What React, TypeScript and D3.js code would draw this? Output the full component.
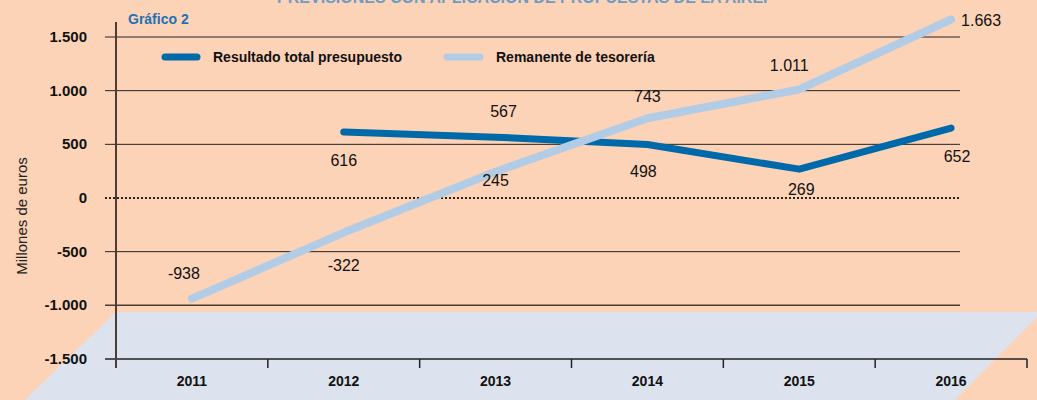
import React from 'react';
import * as d3 from 'd3';

// chart data
const years = ['2011', '2012', '2013', '2014', '2015', '2016'];
const resultado = [null, 616, 567, 498, 269, 652];
const remanente = [-938, -322, 245, 743, 1011, 1663];
const yTicks = [-1500, -1000, -500, 0, 500, 1000, 1500];

// label placement per point: [dx, dy] relative to the point
const resultadoLabelPos = [null, [0, 34], [8, -20], [-4, 32], [2, 26], [6, 34]];
const remanenteLabelPos = [[-8, -20], [0, 38], [0, 14], [0, -16], [-10, -18], [30, 6]];

const W = 1037;
const H = 400;

// spanish style: dot for thousands, plain hyphen for minus
const fmt = (v: number) => d3.format(',')(v).replace(/,/g, '.').replace('\u2212', '-');

const App = () => {
  const x = d3.scaleBand().domain(years).range([116, 1027]).padding(0);
  const y = d3.scaleLinear().domain([-1500, 1500]).range([359, 37]);
  const cx = (yr: string) => (x(yr) || 0) + x.bandwidth() / 2;

  const line = d3.line<[string, number | null]>()
    .defined(d => d[1] !== null)
    .x(d => cx(d[0]))
    .y(d => y(d[1] as number));

  const resData = years.map((yr, i) => [yr, resultado[i]] as [string, number | null]);
  const remData = years.map((yr, i) => [yr, remanente[i]] as [string, number | null]);

  const gridX0 = 105;
  const gridX1 = 960;
  const font = '"Liberation Sans", Arial, sans-serif';

  return (
    <svg width={W} height={H} style={{ position: 'absolute', left: 0, top: 0 }} fontFamily={font}>
      <rect x={0} y={0} width={W} height={H} fill='#fdd3b8' />
      {/* light band at the bottom */}
      <polygon points={`116,312 ${W},312 ${W},317 955,${H} 25,${H}`} fill='#dce3ef' />

      {/* title, cut off by the top edge as in the source */}
      <text x={525} y={3} textAnchor='middle' fontSize={16} fontWeight='bold' fill='#6f9cc4'>
        PREVISIONES CON APLICACIÓN DE PROPUESTAS DE LA AIREF
      </text>
      <text x={128} y={24} fontSize={14} fontWeight='bold' fill='#1d72b4'>Gráfico 2</text>

      {/* gridlines */}
      {yTicks.filter(t => t !== -1500).map(t => (
        <line key={t} x1={gridX0} x2={gridX1} y1={y(t)} y2={y(t)}
          stroke={t === -1000 ? '#4a3b33' : '#222'}
          strokeWidth={t === -1000 ? 1.5 : t === 0 ? 2 : 1}
          strokeDasharray={t === 0 ? '2,2' : undefined} />
      ))}
      {/* x axis */}
      <line x1={gridX0} x2={1027} y1={y(-1500)} y2={y(-1500)} stroke='#222' strokeWidth={1.5} />
      {years.map((yr, i) => (
        <line key={'t' + i} x1={(x(yr) || 0)} x2={(x(yr) || 0)} y1={y(-1500)} y2={y(-1500) + 9} stroke='#222' strokeWidth={1.5} />
      ))}
      <line x1={1027} x2={1027} y1={y(-1500)} y2={y(-1500) + 9} stroke='#222' strokeWidth={1.5} />
      {years.map(yr => (
        <text key={'l' + yr} x={cx(yr)} y={386} textAnchor='middle' fontSize={14} fontWeight='bold' fill='#111'>{yr}</text>
      ))}
      {/* y axis */}
      <line x1={116} x2={116} y1={22} y2={368} stroke='#4a3b33' strokeWidth={2} />
      {yTicks.map(t => (
        <text key={'y' + t} x={87} y={y(t) + 5} textAnchor='end' fontSize={15} fontWeight='bold' fill='#111'>{fmt(t)}</text>
      ))}
      <text transform={`translate(27,216) rotate(-90)`} textAnchor='middle' fontSize={15} fill='#222'>Millones de euros</text>

      {/* legend */}
      <line x1={165} x2={197} y1={57} y2={57} stroke='#0069aa' strokeWidth={7} strokeLinecap='round' />
      <text x={213} y={62} fontSize={14} fontWeight='bold' fill='#111'>Resultado total presupuesto</text>
      <line x1={447} x2={480} y1={57} y2={57} stroke='#b3cce6' strokeWidth={7} strokeLinecap='round' />
      <text x={496} y={62} fontSize={14} fontWeight='bold' fill='#111'>Remanente de tesorería</text>

      {/* series */}
      <path d={line(resData) || ''} fill='none' stroke='#0069aa' strokeWidth={7} strokeLinecap='round' strokeLinejoin='round' />
      <path d={line(remData) || ''} fill='none' stroke='#b3cce6' strokeWidth={8} strokeLinecap='round' strokeLinejoin='round' />

      {/* value labels */}
      {resData.map((d, i) => {
        const p = resultadoLabelPos[i];
        if (d[1] === null || !p) return null;
        return <text key={'rv' + i} x={cx(d[0]) + p[0]} y={y(d[1]) + p[1]} textAnchor='middle' fontSize={16} fill='#111'>{fmt(d[1])}</text>;
      })}
      {remData.map((d, i) => {
        const p = remanenteLabelPos[i];
        if (d[1] === null || !p) return null;
        return <text key={'mv' + i} x={cx(d[0]) + p[0]} y={y(d[1]) + p[1]} textAnchor='middle' fontSize={16} fill='#111'>{fmt(d[1])}</text>;
      })}
    </svg>
  );
};

export default App;
